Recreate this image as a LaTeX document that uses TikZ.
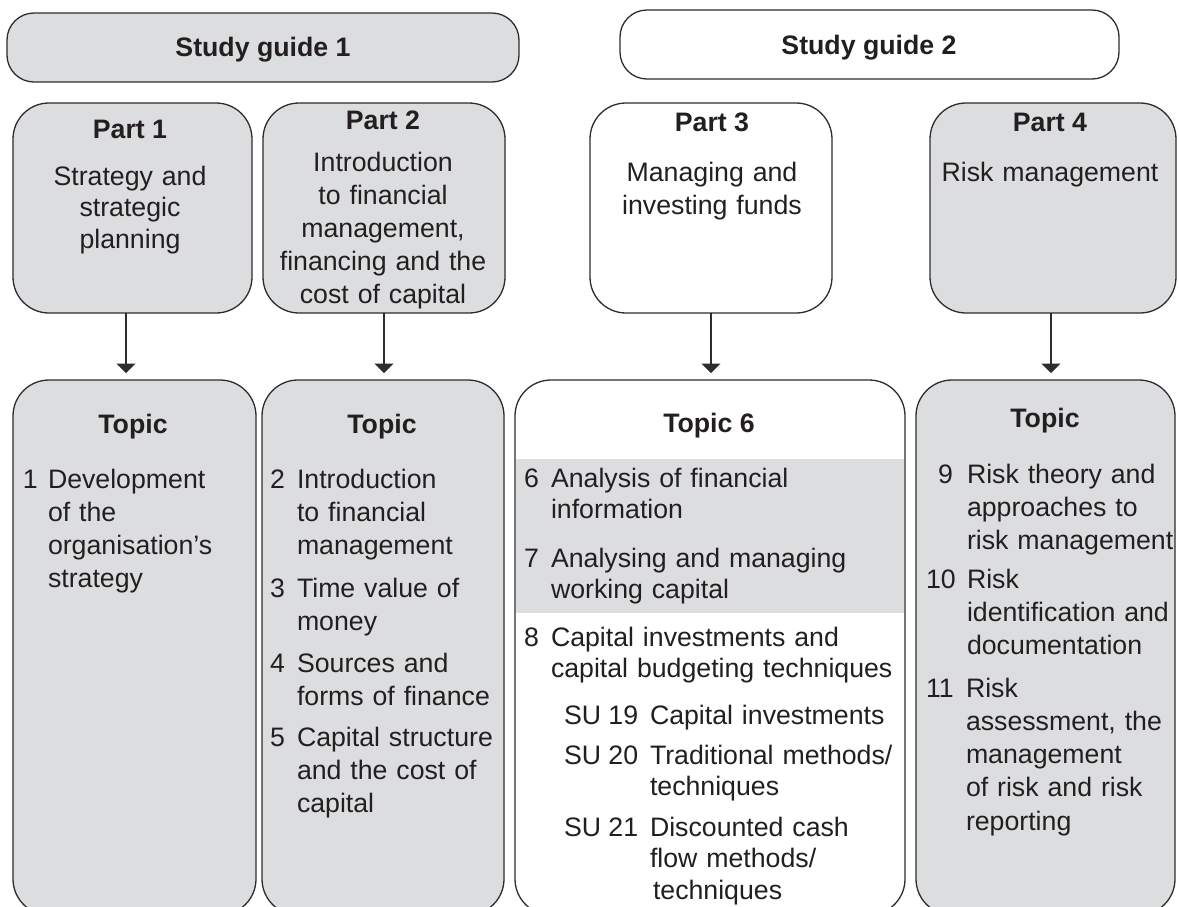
\documentclass[tikz,border=0pt]{standalone}
\usepackage{fontspec}
\setmainfont{Liberation Sans}
\usetikzlibrary{arrows.meta}
\definecolor{boxgray}{RGB}{220,221,223}
\definecolor{ink}{RGB}{35,31,32}
\definecolor{edge}{RGB}{45,45,45}
\begin{document}
\begin{tikzpicture}[x=1pt,y=-1pt,
  frame/.style={draw=edge,line width=1.3pt,inner sep=0pt,outer sep=0pt},
  sg/.style={frame,rounded corners=27pt,minimum height=69pt},
  partbox/.style={frame,rounded corners=36pt,minimum height=210pt},
  topicbox/.style={frame,rounded corners=36pt,minimum height=535pt},
  shaded/.style={fill=boxgray},
  plain/.style={fill=white},
  txt/.style={text=ink,inner sep=0pt,outer sep=0pt,font=\fontsize{26.7}{33}\selectfont},
  head/.style={txt,font=\fontsize{26.7}{33}\selectfont\bfseries,anchor=base},
  ctext/.style={txt,anchor=base,text width=250pt,align=center},
  ltext/.style={txt,anchor=base west,align=left},
  tight/.style={font=\fontsize{26.7}{31.7}\selectfont},
  loose/.style={font=\fontsize{26.7}{33.3}\selectfont},
  num/.style={txt,anchor=base west},
  arr/.style={draw=edge,line width=1.4pt,-{Triangle[width=19pt,length=9.5pt]},shorten >=7pt}
]
\useasboundingbox (0,0) rectangle (1179,906);
\fill[white] (0,0) rectangle (1179,906);
\clip (0,0) rectangle (1179,906);

% Study guides
\node[sg,shaded,minimum width=512pt] (sg1) at (263,47.5) {};
\node[sg,plain,minimum width=499pt] (sg2) at (869.5,44.5) {};
\node[head] (sg1t) at (263,56) {Study guide 1};
\node[head] (sg2t) at (869,54) {Study guide 2};

% Parts
\node[partbox,shaded,minimum width=239pt] (p1) at (132.5,208) {};
\node[partbox,shaded,minimum width=242pt] (p2) at (384,208) {};
\node[partbox,plain,minimum width=242pt] (p3) at (711,208) {};
\node[partbox,shaded,minimum width=246pt] (p4) at (1053,208) {};

\node[head] (p1h) at (130,138) {Part 1};
\node[head] (p2h) at (383,129) {Part 2};
\node[head] (p3h) at (712,131) {Part 3};
\node[head] (p4h) at (1050,131) {Part 4};

\node[ctext,font=\fontsize{26.7}{31.5}\selectfont] (p1t) at (130,185) {Strategy and\\strategic\\planning};
\node[ctext] (p2t) at (383,171) {Introduction\\to financial\\management,\\financing and the\\cost of capital};
\node[ctext] (p3t) at (712,181) {Managing and\\investing funds};
\node[ctext] (p4t) at (1050,181) {Risk management};

% Topic boxes
\node[topicbox,shaded,minimum width=243pt] (t1) at (134.5,647.5) {};
\node[topicbox,shaded,minimum width=242pt] (t2) at (383,647.5) {};
\node[topicbox,plain,minimum width=390pt] (t6) at (710,647.5) {};
\node[topicbox,shaded,minimum width=259pt] (t4) at (1045.5,647.5) {};
\fill[boxgray] (515.7,459) rectangle (904.3,613);

% Arrows
\coordinate (a1) at ([xshift=-6.5pt]p1.south);
\coordinate (a4) at ([xshift=-2pt]p4.south);
\draw[arr] (a1) -- (a1 |- t1.north);
\draw[arr] (p2.south) -- (p2.south |- t2.north);
\draw[arr] (p3.south) -- (p3.south |- t6.north);
\draw[arr] (a4) -- (a4 |- t4.north);

% Topic headers
\node[head] (t1h) at (133,433) {Topic};
\node[head] (t2h) at (382,433) {Topic};
\node[head] (t6h) at (709,432) {Topic 6};
\node[head] (t4h) at (1045,427) {Topic};

% Topic 1
\node[num] (n1) at (23,488) {1};
\node[ltext,text width=200pt] (i1) at (48,488) {Development\\of the\\organisation’s\\strategy};

% Topic 2
\node[num] (n2) at (270,488) {2};
\node[ltext,text width=205pt] (i2) at (297,488) {Introduction\\to financial\\management};
\node[num] (n3) at (270,597) {3};
\node[ltext,text width=205pt] (i3) at (297,597) {Time value of\\money};
\node[num] (n4) at (270,672) {4};
\node[ltext,text width=205pt] (i4) at (297,672) {Sources and\\forms of finance};
\node[num] (n5) at (270,746) {5};
\node[ltext,text width=205pt] (i5) at (297,746) {Capital structure\\and the cost of\\capital};

% Topic 6
\node[num] (n6) at (524,487) {6};
\node[ltext,tight,text width=352pt] (i6) at (551,487) {Analysis of financial\\information};
\node[num] (n7) at (524,567) {7};
\node[ltext,tight,text width=352pt] (i7) at (551,567) {Analysing and managing\\working capital};
\node[num] (n8) at (524,646) {8};
\node[ltext,tight,text width=352pt] (i8) at (551,646) {Capital investments and\\capital budgeting techniques};
\node[num] (s19) at (564,724) {SU 19};
\node[ltext,tight,text width=252pt] (j19) at (650,724) {Capital investments};
\node[num] (s20) at (564,764) {SU 20};
\node[ltext,tight,text width=252pt] (j20) at (650,764) {Traditional methods/\\techniques};
\node[num] (s21) at (564,836) {SU 21};
\node[ltext,tight,text width=252pt] (j21) at (650,836) {Discounted cash\\flow methods/\\\hspace*{3pt}techniques};

% Topic 4 (right)
\node[num] (n9) at (938,483) {9};
\node[ltext,loose,text width=210pt] (i9) at (967,483) {Risk theory and\\approaches to\\risk management};
\node[num] (n10) at (926,588) {10};
\node[ltext,loose,text width=210pt] (i10) at (967,588) {Risk\\identification and\\documentation};
\node[num] (n11) at (926,697) {11};
\node[ltext,loose,text width=210pt] (i11) at (966,697) {Risk\\assessment, the\\management\\of risk and risk\\reporting};
\end{tikzpicture}
\end{document}
